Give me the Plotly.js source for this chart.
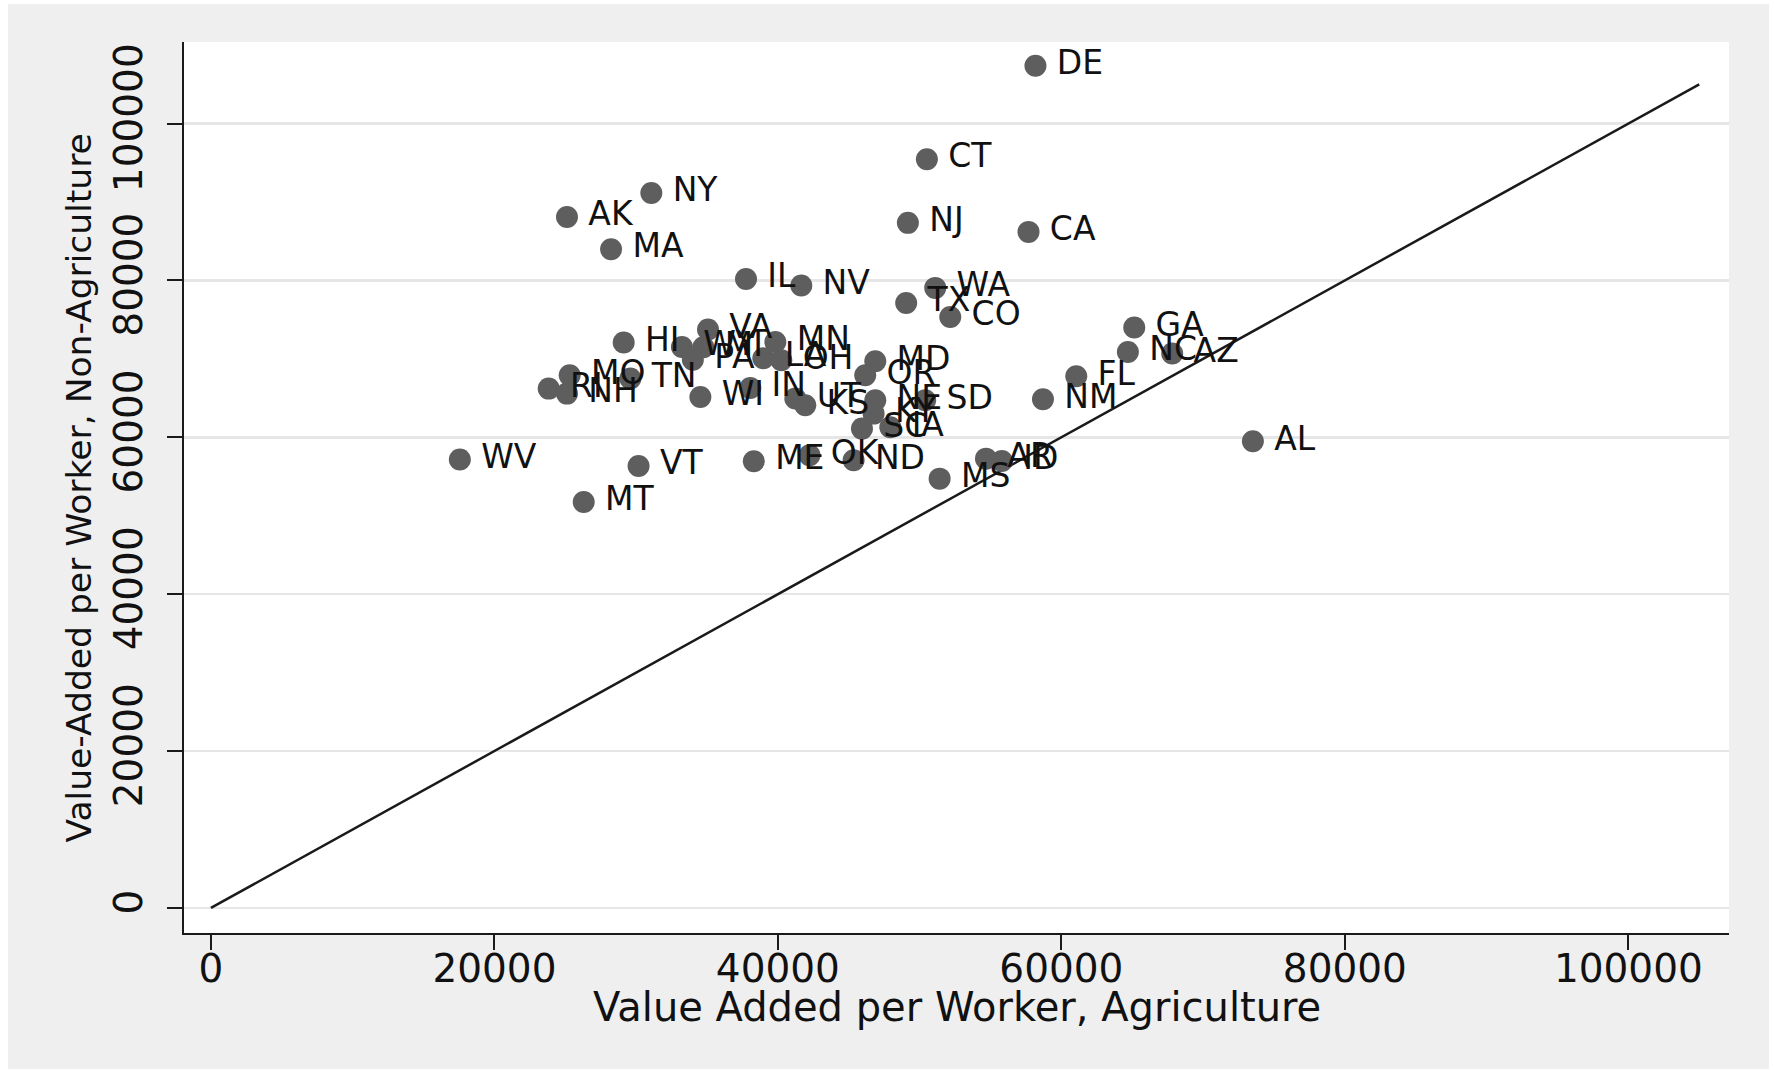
<!DOCTYPE html>
<html>
<head>
<meta charset="utf-8">
<script src="https://cdn.plot.ly/plotly-3.0.1.min.js"></script>
<style>
  html, body { margin: 0; padding: 0; background: #ffffff; }
  #chart { position: absolute; left: 8px; top: 4px; width: 1761px; height: 1065px; }
</style>
</head>
<body>
<div id="chart"></div>
<script>
// State labels
const states = ["DE","CT","NY","AK","MA","NJ","CA","IL","NV","TX","WA","CO","GA","NC","AZ","FL","NM","AL","MS","AR","ID","SD","VA","HI","WY","MI","PA","MN","LA","OH","MD","OR","MO","RI","NH","TN","WI","IN","UT","KS","NE","KY","SC","IA","ME","OK","ND","VT","MT","WV"];
// Value added per worker, agriculture
const agriculture = [58170,50510,31070,25120,28230,49170,57680,37750,41650,49050,51100,52160,65140,64690,67820,61050,58700,73510,51410,54680,55800,50390,35070,29120,33230,34740,34000,39820,38970,40240,46870,46160,25310,23830,25120,29590,34530,38050,41230,41930,46870,46750,45930,47930,38300,42230,45340,30170,26300,17560];
// Value added per worker, non-agriculture
const nonAgriculture = [107370,95460,91160,88100,83980,87340,86190,80190,79350,77130,79050,75350,73990,70880,70680,67780,64850,59490,54730,57280,56980,64720,73740,72080,71520,71480,69900,72160,70080,69820,69690,67910,67910,66210,65570,67490,65140,66280,64940,64080,64720,63020,61110,61280,56950,57700,57070,56340,51750,57160];
// 45-degree reference line
const diagX = [0, 105000];
const diagY = [0, 105000];
// Tick values
const xTicks = [0, 20000, 40000, 60000, 80000, 100000];
const yTicks = [0, 20000, 40000, 60000, 80000, 100000];
// Axis titles
const xTitle = "Value Added per Worker, Agriculture";
const yTitle = "Value-Added per Worker, Non-Agriculture";

const FONT = "DejaVu Sans, Liberation Sans, Arial, sans-serif";

const traces = [
  {
    x: diagX, y: diagY, type: "scatter", mode: "lines",
    line: { color: "#1a1a1a", width: 2.5 },
    hoverinfo: "skip", showlegend: false
  },
  {
    x: agriculture, y: nonAgriculture, type: "scatter", mode: "markers+text",
    text: states.map(s => "\u2009" + s),
    textposition: "middle right",
    textfont: { family: FONT, size: 33, color: "#111111" },
    marker: { size: 22, color: "#5e5e5e" },
    showlegend: false
  }
];

const layout = {
  width: 1761, height: 1065,
  paper_bgcolor: "#efefef",
  plot_bgcolor: "#ffffff",
  margin: { l: 176, r: 40, t: 38, b: 136 },
  showlegend: false,
  font: { family: FONT, color: "#111111" },
  xaxis: {
    range: [-1900, 107100],
    tickvals: xTicks,
    ticktext: xTicks.map(String),
    showgrid: false, zeroline: false,
    showline: true, linecolor: "#1a1a1a", linewidth: 2,
    ticks: "outside", ticklen: 15, tickwidth: 2, tickcolor: "#1a1a1a",
    ticklabelstandoff: -15,
    tickfont: { family: FONT, size: 39, color: "#111111" }
  },
  yaxis: {
    range: [-3200, 110400],
    tickvals: yTicks,
    ticktext: yTicks.map(String),
    tickangle: -90,
    showgrid: true, gridcolor: "#e6e6e6", gridwidth: 2.5,
    zeroline: false,
    showline: true, linecolor: "#1a1a1a", linewidth: 2,
    ticks: "outside", ticklen: 15, tickwidth: 2, tickcolor: "#1a1a1a",
    ticklabelstandoff: 9,
    tickfont: { family: FONT, size: 39, color: "#111111" }
  },
  annotations: [
    {
      text: xTitle, xref: "paper", yref: "paper", x: 0.5, y: -0.083,
      xanchor: "center", yanchor: "middle", showarrow: false,
      font: { family: FONT, size: 40, color: "#111111" }
    },
    {
      text: yTitle, xref: "paper", yref: "paper", x: -0.068, y: 0.5,
      xanchor: "center", yanchor: "middle", showarrow: false, textangle: -90,
      font: { family: FONT, size: 34.5, color: "#111111" }
    }
  ]
};

Plotly.newPlot("chart", traces, layout, { displayModeBar: false, staticPlot: true });
</script>
</body>
</html>
